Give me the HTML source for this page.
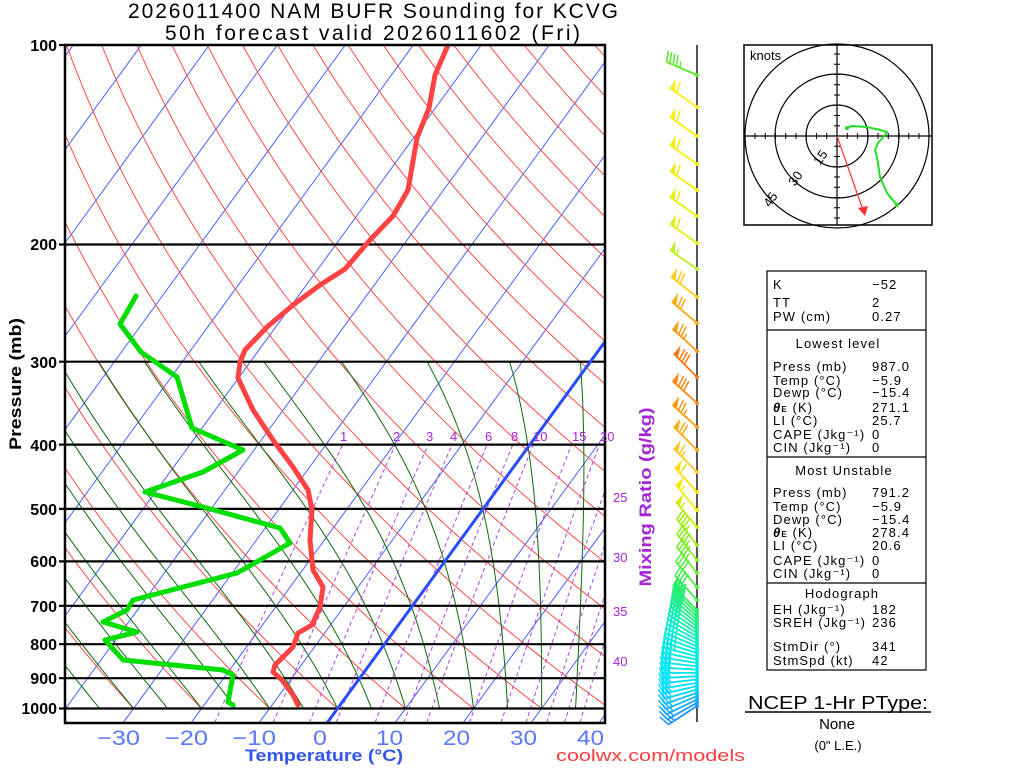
<!DOCTYPE html>
<html><head><meta charset="utf-8"><style>
html,body{margin:0;padding:0;background:#fff;}
svg{display:block;}
text{font-family:"Liberation Sans",sans-serif;}
</style></head><body>
<svg id="s" xmlns="http://www.w3.org/2000/svg" width="1024" height="768" viewBox="0 0 1024 768">
<defs><clipPath id="pc"><rect x="65" y="45" width="540" height="678"/></clipPath></defs>
<rect x="0" y="0" width="1024" height="768" fill="#fff"/>
<g id="bg" clip-path="url(#pc)"></g>
<g id="isob" stroke="#000" stroke-width="2.2">
<line x1="59" y1="244.5" x2="605" y2="244.5"/>
<line x1="59" y1="361.7" x2="605" y2="361.7"/>
<line x1="59" y1="444.6" x2="605" y2="444.6"/>
<line x1="59" y1="508.9" x2="605" y2="508.9"/>
<line x1="59" y1="561.4" x2="605" y2="561.4"/>
<line x1="59" y1="605.8" x2="605" y2="605.8"/>
<line x1="59" y1="644.2" x2="605" y2="644.2"/>
<line x1="59" y1="678.2" x2="605" y2="678.2"/>
<line x1="59" y1="708.5" x2="605" y2="708.5"/>
<line x1="59" y1="45" x2="65" y2="45"/>
</g>
<g clip-path="url(#pc)">
<line x1="327" y1="723" x2="606" y2="340.3" stroke="#2a4cff" stroke-width="3"/>
<polyline fill="none" stroke="#ff4242" stroke-width="5" stroke-linejoin="round" stroke-linecap="round" points="448,45 435,75 429,108 417,138 408,190 393,216 370,240 345,269 320,285 293,305 267,327 245,350 240,362 238,378 253,410 273,440 293,467 308,490 312,510 310,540 313,570 323,587 320,607 312,625 298,633 293,647 275,665 273,672 282,680 293,695 298,705"/>
<polyline fill="none" stroke="#00dd00" stroke-width="5" stroke-linejoin="round" stroke-linecap="round" points="136,296 120,324 141,352 177,377 192,428 243,450 203,472 145,492 203,507 280,528 290,543 260,560 237,573 133,600 127,610 103,622 137,632 105,640 123,660 223,670 233,675 228,702 233,705"/>
</g>
<rect x="65" y="45" width="540" height="678" fill="none" stroke="#000" stroke-width="2.5"/>

<text x="128" y="18" font-size="21" textLength="490" lengthAdjust="spacing" fill="#000">2026011400 NAM BUFR Sounding for KCVG</text>
<text x="165" y="40" font-size="21" textLength="415" lengthAdjust="spacing" fill="#000">50h forecast valid 2026011602 (Fri)</text>

<g font-size="16" font-weight="bold" text-anchor="end" fill="#000">
<text x="57" y="51">100</text>
<text x="57" y="250">200</text>
<text x="57" y="368">300</text>
<text x="57" y="451">400</text>
<text x="57" y="515">500</text>
<text x="57" y="567">600</text>
<text x="57" y="612">700</text>
<text x="57" y="650">800</text>
<text x="57" y="684">900</text>
<text x="57" y="714">1000</text>
</g>
<text transform="translate(21,384) rotate(-90)" text-anchor="middle" font-size="17" font-weight="bold" textLength="132" lengthAdjust="spacingAndGlyphs" fill="#000">Pressure (mb)</text>

<g font-size="21" fill="#5a78ff">
<text x="97" y="745" textLength="43" lengthAdjust="spacingAndGlyphs">−30</text>
<text x="165" y="745" textLength="43" lengthAdjust="spacingAndGlyphs">−20</text>
<text x="232" y="745" textLength="44" lengthAdjust="spacingAndGlyphs">−10</text>
<text x="313" y="745" textLength="14" lengthAdjust="spacingAndGlyphs">0</text>
<text x="376" y="745" textLength="27" lengthAdjust="spacingAndGlyphs">10</text>
<text x="443" y="745" textLength="27" lengthAdjust="spacingAndGlyphs">20</text>
<text x="510" y="745" textLength="27" lengthAdjust="spacingAndGlyphs">30</text>
<text x="577" y="745" textLength="27" lengthAdjust="spacingAndGlyphs">40</text>
</g>
<text x="245" y="761" font-size="17" font-weight="bold" fill="#3355ee" textLength="158" lengthAdjust="spacingAndGlyphs">Temperature (°C)</text>
<text x="556" y="761" font-size="17" fill="#ff3b3b" textLength="189" lengthAdjust="spacingAndGlyphs">coolwx.com/models</text>

<g font-size="13" fill="#a524d8">
<text x="340" y="441">1</text>
<text x="393" y="441">2</text>
<text x="426" y="441">3</text>
<text x="450" y="441">4</text>
<text x="485" y="441">6</text>
<text x="511" y="441">8</text>
<text x="533" y="441">10</text>
<text x="572" y="441">15</text>
<text x="600" y="441">20</text>
<text x="613" y="502">25</text>
<text x="613" y="562">30</text>
<text x="613" y="616">35</text>
<text x="613" y="666">40</text>
</g>
<text transform="translate(651,497) rotate(-90)" text-anchor="middle" font-size="17" font-weight="bold" fill="#a524d8" textLength="179" lengthAdjust="spacingAndGlyphs">Mixing Ratio (g/kg)</text>

<line x1="697" y1="45" x2="697" y2="722" stroke="#555" stroke-width="2"/>
<g id="barbs"></g>

<g>
<rect x="744" y="45" width="188" height="180" fill="#fff" stroke="#000" stroke-width="1.5"/>
<g fill="none" stroke="#000" stroke-width="1.2">
<circle cx="837" cy="136" r="31"/>
<circle cx="837" cy="136" r="62"/>
<circle cx="837" cy="136" r="92"/>
</g>
<line x1="744" y1="136" x2="932" y2="136" stroke="#000" stroke-width="1.2"/>
<line x1="837" y1="45" x2="837" y2="225" stroke="#000" stroke-width="1.2"/>
<g id="hticks" stroke="#000" stroke-width="1"></g>
<text x="750" y="60" font-size="13" fill="#000">knots</text>
<g font-size="13" fill="#000" text-anchor="middle">
<text transform="translate(824,160) rotate(-55)">15</text>
<text transform="translate(799,181) rotate(-55)">30</text>
<text transform="translate(774,202) rotate(-55)">45</text>
</g>
<polyline fill="none" stroke="#22dd22" stroke-width="2" points="847,128 852,126 867,127 880,130 887,132 885,135 878,143 875,150 877,157 880,177 887,193 897,205"/>
<circle cx="847" cy="128" r="2" fill="#22dd22"/>
<circle cx="897" cy="205" r="2" fill="#22dd22"/>
<line x1="837" y1="136" x2="863" y2="210" stroke="#ff3333" stroke-width="1.2"/>
<polygon points="865,216 858,208 868,206" fill="#ff3333"/>
</g>

<rect x="767" y="271" width="159" height="399" fill="none" stroke="#000" stroke-width="1.2"/>
<g stroke="#000" stroke-width="1.2">
<line x1="767" y1="330" x2="926" y2="330"/>
<line x1="767" y1="457" x2="926" y2="457"/>
<line x1="767" y1="583" x2="926" y2="583"/>
</g>
<g font-size="13" fill="#000" letter-spacing="1.1">
<text x="773" y="289">K</text><text x="872" y="289">−52</text>
<text x="773" y="307">TT</text><text x="872" y="307">2</text>
<text x="773" y="321">PW (cm)</text><text x="872" y="321">0.27</text>
<text x="838" y="348" text-anchor="middle">Lowest level</text>
<text x="773" y="371">Press (mb)</text><text x="872" y="371">987.0</text>
<text x="773" y="385">Temp (°C)</text><text x="872" y="385">−5.9</text>
<text x="773" y="397">Dewp (°C)</text><text x="872" y="397">−15.4</text>
<text x="773" y="412" font-style="italic" font-weight="bold">θ<tspan font-size="8" font-style="normal">E</tspan><tspan font-weight="normal" font-style="normal"> (K)</tspan></text><text x="872" y="412">271.1</text>
<text x="773" y="425">LI (°C)</text><text x="872" y="425">25.7</text>
<text x="773" y="439">CAPE (Jkg⁻¹)</text><text x="872" y="439">0</text>
<text x="773" y="452">CIN (Jkg⁻¹)</text><text x="872" y="452">0</text>
<text x="844" y="475" text-anchor="middle">Most Unstable</text>
<text x="773" y="497">Press (mb)</text><text x="872" y="497">791.2</text>
<text x="773" y="511">Temp (°C)</text><text x="872" y="511">−5.9</text>
<text x="773" y="524">Dewp (°C)</text><text x="872" y="524">−15.4</text>
<text x="773" y="537" font-style="italic" font-weight="bold">θ<tspan font-size="8" font-style="normal">E</tspan><tspan font-weight="normal" font-style="normal"> (K)</tspan></text><text x="872" y="537">278.4</text>
<text x="773" y="550">LI (°C)</text><text x="872" y="550">20.6</text>
<text x="773" y="565">CAPE (Jkg⁻¹)</text><text x="872" y="565">0</text>
<text x="773" y="578">CIN (Jkg⁻¹)</text><text x="872" y="578">0</text>
<text x="842" y="598" text-anchor="middle">Hodograph</text>
<text x="773" y="614">EH (Jkg⁻¹)</text><text x="872" y="614">182</text>
<text x="773" y="627">SREH (Jkg⁻¹)</text><text x="872" y="627">236</text>
<text x="773" y="651">StmDir (°)</text><text x="872" y="651">341</text>
<text x="773" y="665">StmSpd (kt)</text><text x="872" y="665">42</text>
</g>

<text x="748" y="709" font-size="18" fill="#000" textLength="180" lengthAdjust="spacingAndGlyphs">NCEP 1-Hr PType:</text>
<line x1="745" y1="712" x2="931" y2="712" stroke="#000" stroke-width="1.5"/>
<text x="837" y="729" font-size="15" fill="#000" text-anchor="middle">None</text>
<text x="838" y="750" font-size="13" fill="#000" text-anchor="middle">(0" L.E.)</text>
</svg>
<script>
(function(){
var NS="http://www.w3.org/2000/svg";
var g=document.getElementById('bg');
function Y(p){return 708.5+288*Math.log(p/1000);}
function X(t,y){return 327+6.8*t+0.729*(723-y);}
function poly(par,pts,stroke,w,dash){var e=document.createElementNS(NS,'polyline');
 e.setAttribute('points',pts.map(function(p){return p[0].toFixed(1)+','+p[1].toFixed(1);}).join(' '));
 e.setAttribute('fill','none');e.setAttribute('stroke',stroke);e.setAttribute('stroke-width',w);
 if(dash)e.setAttribute('stroke-dasharray',dash);par.appendChild(e);}
for(var t=-170;t<=50;t+=10){ if(t===0)continue; var y1=Y(1050),y2=Y(100);
 poly(g,[[X(t,y1),y1],[X(t,y2),y2]],'#4a62ff',1);}
for(var tt=-60;tt<=260;tt+=10){var th=tt+273.15;var pts=[];
 for(var p=1000;p>=100;p-=10){var T=th*Math.pow(p/1000,0.2857)-273.15;var y=Y(p);pts.push([X(T,y),y]);}
 poly(g,pts,'#ff4a4a',1);}
function es(tc){return 6.112*Math.exp(17.67*tc/(tc+243.5));}
function dTdp(T,p){var tc=T-273.15;var e=es(tc);var rs=0.622*e/(p-e);var Rd=287.04,cp=1005.7,L=2.501e6;
 return (Rd*T+L*rs)/(p*(cp+L*L*rs*0.622/(Rd*T*T)));}
for(var tw=-45;tw<=35;tw+=5){var T=tw+273.15,p=1000;var up=[[X(tw,Y(1000)),Y(1000)]];
 while(p>300){var dp=-5;var k1=dTdp(T,p);var k2=dTdp(T+k1*dp,p+dp);T+=(k1+k2)/2*dp;p+=dp;var y=Y(p);up.push([X(T-273.15,y),y]);}
 poly(g,up,'#0b6b0b',1);}
[1,2,3,4,6,8,10,15,20,25,30,35,40].forEach(function(w){var pts=[];
 for(var p=1050;p>=400;p-=10){var e=w*p/(622+w);var l=Math.log(e/6.112);var td=243.5*l/(17.67-l);var y=Y(p);pts.push([X(td,y),y]);}
 poly(g,pts,'#b040e8',1,'4,3');});
var ht=document.getElementById('hticks');
for(var k=-9;k<=9;k++){if(k===0)continue;var d=k*10.25;
 if(Math.abs(d)>92)continue;
 var a=document.createElementNS(NS,'line');a.setAttribute('x1',837+d);a.setAttribute('x2',837+d);a.setAttribute('y1',133);a.setAttribute('y2',139);ht.appendChild(a);
 var b=document.createElementNS(NS,'line');b.setAttribute('y1',136+d);b.setAttribute('y2',136+d);b.setAttribute('x1',834);b.setAttribute('x2',840);ht.appendChild(b);}
var bg=document.getElementById('barbs');
function line(x1,y1,x2,y2,c,w){var e=document.createElementNS(NS,'line');e.setAttribute('x1',x1);e.setAttribute('y1',y1);e.setAttribute('x2',x2);e.setAttribute('y2',y2);e.setAttribute('stroke',c);e.setAttribute('stroke-width',w||1.5);bg.appendChild(e);}
function barb(y,ang,spd,col,L){L=L||33;var bx=697,by=y;var a=ang*Math.PI/180;var ux=-Math.cos(a),uy=-Math.sin(a);
 var tx=bx+L*ux,ty=by+L*uy;var nx=-uy,ny=ux;
 line(bx,by,tx,ty,col,1.8);
 var d=0;var s=Math.round(spd/5)*5;
 while(s>=50){var px=tx-d*ux,py=ty-d*uy;var e=document.createElementNS(NS,'polygon');
  e.setAttribute('points',[px,py,px+11*nx+1*ux,py+11*ny+1*uy,px-6*ux,py-6*uy].map(function(v){return v.toFixed(1);}).join(' '));
  e.setAttribute('fill',col);bg.appendChild(e);d+=8;s-=50;}
 while(s>=10){var px=tx-d*ux,py=ty-d*uy;line(px,py,px+11*nx+3*ux,py+11*ny+3*uy,col,1.5);d+=3.6;s-=10;}
 if(s>=5){var px=tx-d*ux,py=ty-d*uy;line(px,py,px+6*nx+1.5*ux,py+6*ny+1.5*uy,col,1.5);}
 var c=document.createElementNS(NS,'circle');c.setAttribute('cx',bx);c.setAttribute('cy',by);c.setAttribute('r',2);c.setAttribute('fill',col);bg.appendChild(c);}
var list=[[75,23,45,'#5ee82a'],[107,35,60,'#ffee11'],[136,35,60,'#f5ee00'],[164,35,60,'#f0f000'],[190,35,60,'#eef000'],[216,35,60,'#e8f000'],[243,35,60,'#e0f010'],[269,35,55,'#b8ee20'],[297,38,70,'#ffcc22'],[323,40,70,'#ffaa11'],[351,42,75,'#ff9911'],[377,45,80,'#ff7711'],[403,42,80,'#ff8811'],[427,42,75,'#ff9911'],[450,45,70,'#ffaa11'],[472,45,65,'#ffc822'],[492,48,60,'#ffdd11'],[510,50,55,'#eeee00'],[527,50,55,'#c8ee10'],[545,52,45,'#a0ee10'],[560,52,45,'#88ee20'],[573,52,45,'#70ee30'],[587,50,40,'#55ee40'],[600,48,40,'#40ee50']];
list.forEach(function(b){barb(b[0],b[1],b[2],b[3]);});
function lerp(a,b,t){return Math.round(a+(b-a)*t);}
function col(t){var stops=[[0,[48,238,96]],[0.4,[0,238,220]],[0.8,[0,221,255]],[1,[32,144,255]]];
 for(var i=0;i<stops.length-1;i++){if(t<=stops[i+1][0]){var f=(t-stops[i][0])/(stops[i+1][0]-stops[i][0]);var A=stops[i][1],B=stops[i+1][1];return 'rgb('+lerp(A[0],B[0],f)+','+lerp(A[1],B[1],f)+','+lerp(A[2],B[2],f)+')';}}
 return 'rgb(32,144,255)';}
var N=30;
for(var i=0;i<N;i++){var f=i/(N-1);var y=610+f*96;var ang=45-78*Math.pow(f,1.3);barb(y,ang,40-15*f,col(f),34);}
})();
</script>
</body></html>
